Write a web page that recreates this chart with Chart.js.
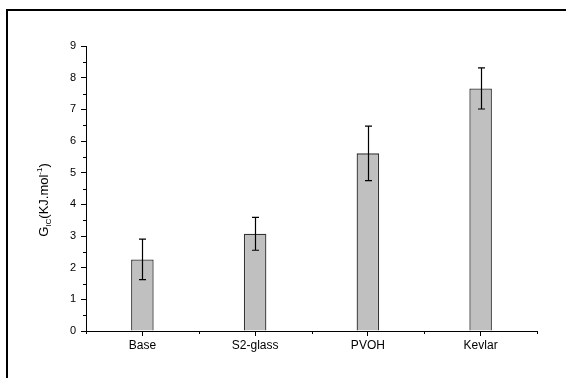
<!DOCTYPE html>
<html lang="en">
<head>
 <meta charset="UTF-8">
 <title>GIC by reinforcement</title>
 <script src="https://cdn.jsdelivr.net/npm/chart.js"></script>
 <style>
 html, body { margin: 0; padding: 0; background: #fff; }
 #wrap { position: relative; width: 568px; height: 378px; }
 </style>
</head>
<body>
 <div id="wrap">
 <canvas id="myChart"></canvas>
 </div>
 <script>
 // data
 const categories = ['Base', 'S2-glass', 'PVOH', 'Kevlar'];
 const gicValues = [2.26, 3.07, 5.61, 7.66];
 const gicErrors = [0.64, 0.52, 0.86, 0.65];
 const yTicks = [0, 1, 2, 3, 4, 5, 6, 7, 8, 9];

 const font = 'Arial, "Liberation Sans", sans-serif';

 // error bars, minor ticks, y title and the frame
 const extras = {
 id: 'extras',
 beforeDraw(chart) {
 const c = chart.ctx;
 c.save();
 c.strokeStyle = '#000';
 c.lineWidth = 2;
 c.beginPath();
 c.moveTo(7, 378);
 c.lineTo(7, 10);
 c.lineTo(566, 10);
 c.stroke();
 c.restore();
 },
 afterDatasetsDraw(chart) {
 const c = chart.ctx;
 const y = chart.scales.y;
 const meta = chart.getDatasetMeta(0);
 c.save();
 c.strokeStyle = '#000';
 c.lineWidth = 1.2;
 meta.data.forEach((bar, i) => {
 const px = Math.round(bar.x) + 0.5;
 const top = y.getPixelForValue(gicValues[i] + gicErrors[i]);
 const bot = y.getPixelForValue(gicValues[i] - gicErrors[i]);
 c.beginPath();
 c.moveTo(px, top); c.lineTo(px, bot);
 c.moveTo(px - 3.5, top); c.lineTo(px + 3.5, top);
 c.moveTo(px - 3.5, bot); c.lineTo(px + 3.5, bot);
 c.stroke();
 });
 c.restore();
 },
 afterDraw(chart) {
 const c = chart.ctx;
 const x = chart.scales.x, y = chart.scales.y;
 const area = chart.chartArea;
 c.save();
 c.strokeStyle = '#000';
 c.lineWidth = 1;
 c.beginPath();
 // minor x ticks at category boundaries
 for (let i = 0; i <= categories.length; i++) {
 const px = Math.round(x.getPixelForValue(i - 0.5)) + 0.5;
 c.moveTo(px, area.bottom); c.lineTo(px, area.bottom + 3);
 }
 // minor y ticks at halves
 for (let v = 0.5; v < 9; v += 1) {
 const py = Math.round(y.getPixelForValue(v)) + 0.5;
 c.moveTo(area.left, py); c.lineTo(area.left - 3, py);
 }
 c.stroke();

 // y axis title with subscript and superscript
 const parts = [
 { t: 'G', s: 13, dy: 0 },
 { t: 'IC', s: 8, dy: 3 },
 { t: '(KJ.mol', s: 13, dy: 0 },
 { t: '-1', s: 8, dy: -6 },
 { t: ')', s: 13, dy: 0 }
 ];
 let total = 0;
 parts.forEach(p => { c.font = p.s + 'px ' + font; p.w = c.measureText(p.t).width; total += p.w; });
 c.translate(48, 200);
 c.rotate(-Math.PI / 2);
 c.fillStyle = '#000';
 c.textBaseline = 'alphabetic';
 let cx = -total / 2;
 parts.forEach(p => {
 c.font = p.s + 'px ' + font;
 c.fillText(p.t, cx, p.dy);
 cx += p.w;
 });
 c.restore();
 }
 };

 const ctx = document.getElementById('myChart').getContext('2d');
 const myChart = new Chart(ctx, {
 type: 'bar',
 data: {
 labels: categories,
 datasets: [{
 data: gicValues,
 backgroundColor: '#c0c0c0',
 borderColor: '#333',
 borderWidth: 1.3,
 barPercentage: 0.2,
 categoryPercentage: 1
 }]
 },
 options: {
 responsive: true,
 maintainAspectRatio: false,
 animation: false,
 layout: { padding: { top: 46, right: 31, left: 0, bottom: 0 } },
 plugins: { legend: { display: false }, tooltip: { enabled: false } },
 scales: {
 x: {
 offset: true,
 grid: { offset: false, drawOnChartArea: false, tickLength: 5, color: '#000' },
 border: { display: true, color: '#000', width: 1 },
 ticks: { color: '#000', font: { family: font, size: 12 }, padding: 2, maxRotation: 0 },
 afterFit(s) { s.height = 47; }
 },
 y: {
 min: 0,
 max: 9,
 afterBuildTicks(s) { s.ticks = yTicks.map(v => ({ value: v })); },
 grid: { drawOnChartArea: false, tickLength: 5, color: '#000' },
 border: { display: true, color: '#000', width: 1 },
 ticks: { color: '#000', font: { family: font, size: 11 }, padding: 5 },
 afterFit(s) { s.width = 86; }
 }
 }
 },
 plugins: [extras]
 });
 </script>
</body>
</html>
